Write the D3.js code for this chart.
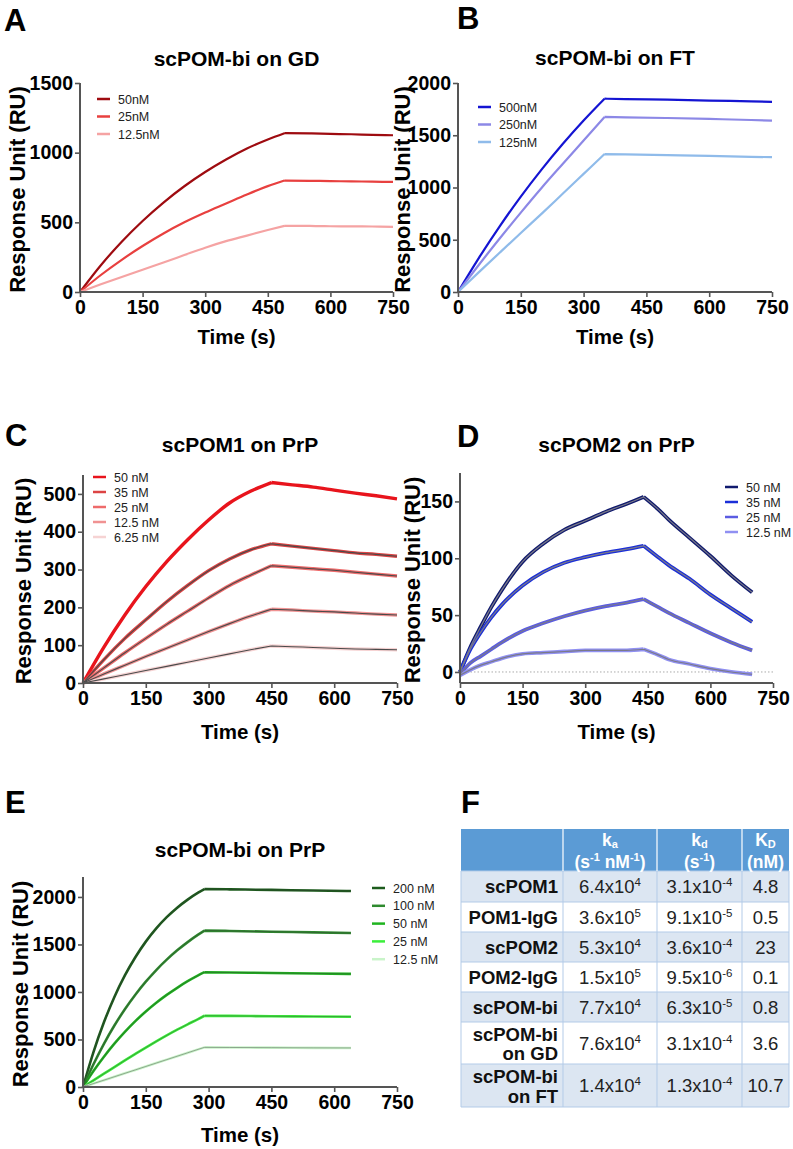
<!DOCTYPE html>
<html><head><meta charset="utf-8">
<script src="https://cdn.jsdelivr.net/npm/d3@7"></script>
<style>body{margin:0;background:#fff} svg{display:block} text{font-family:"Liberation Sans",Arial,Helvetica,sans-serif}</style>
</head><body><svg id="c" width="793" height="1149"></svg>
<script>
// ---------------- DATA ----------------
const xTicks = [0,150,300,450,600,750];

// Panel A: scPOM-bi on GD
const tA   = [0,50,100,150,200,250,300,350,400,450,490,550,600,650,700,750];
const gd50 = [0,192,361,510,642,759,861,951,1030,1095,1140,1138,1135,1132,1128,1125];
const gd25 = [0,122,231,330,420,500,570,635,700,760,800,798,796,794,792,790];
const gd12 = [0,55,108,160,212,265,318,365,405,445,475,474,472,471,470,468];
const legA = ["50nM","25nM","12.5nM"];
const colA = ["#9e0b10","#e8403f","#f5a3a3"];
const yTicksA = [0,500,1000,1500];

// Panel B: scPOM-bi on FT
const tB    = [0,50,100,150,200,250,300,350,400,500,600,700,750];
const ft500 = [0,327,631,913,1174,1416,1641,1850,1846,1840,1832,1824,1820];
const ft250 = [0,261,514,760,998,1225,1450,1675,1672,1665,1656,1646,1640];
const ft125 = [0,190,378,565,750,940,1130,1320,1317,1310,1302,1294,1290];
const legB = ["500nM","250nM","125nM"];
const colB = ["#1414d2","#8c88e6","#8fbbea"];
const yTicksB = [0,500,1000,1500,2000];

// Panel C: scPOM1 on PrP
const tC  = [0,50,100,150,200,250,300,350,400,450,500,550,600,650,700,750];
const c50 = [0,95,180,255,321,379,431,476,507,530,524,518,510,502,495,487];
const c35 = [0,62,118,167,215,258,297,328,352,368,362,356,350,344,340,335];
const c25 = [0,40,80,118,155,190,225,258,285,310,306,302,298,293,288,283];
const c12 = [0,24,47,70,92,114,136,157,177,195,193,190,188,185,182,180];
const c6  = [0,11,22,33,44,55,66,77,88,98,96,94,92,90,89,88];
const legC = ["50 nM","35 nM","25 nM","12.5 nM","6.25 nM"];
const colC = ["#e8141c","#dc4444","#ee6b6b","#f09292","#f6d3d3"];
const yTicksC = [0,100,200,300,400,500];

// Panel D: scPOM2 on PrP
const tD  = [0,25,50,75,100,150,200,250,300,350,400,440,475,500,550,600,650,700];
const d50 = [0,22,40,57,72,97,113,125,133,141,148,154,143,134,118,102,85,70];
const d35 = [0,20,35,48,59,76,88,96,101,105,108,111,101,94,82,68,56,44];
const d25 = [-2,8,14,20,26,36,43,49,54,58,61,64,57,52,43,34,26,19];
const d12 = [-3,2,6,9,12,16,17,18,19,19,19,20,15,11,7,3,0,-2];
const legD = ["50 nM","35 nM","25 nM","12.5 nM"];
const colD = ["#101a6e","#1b2fd8","#5b5ce2","#9090f2"];
const yTicksD = [0,50,100,150];

// Panel E: scPOM-bi on PrP
const tE   = [0,25,50,75,100,125,150,175,200,225,250,275,290,350,450,550,640];
const e200 = [0,368,681,948,1174,1366,1530,1669,1787,1887,1972,2045,2083,2080,2074,2068,2062];
const e100 = [0,240,455,647,818,971,1108,1231,1340,1438,1525,1603,1646,1642,1634,1627,1620];
const e50  = [0,168,319,456,580,693,794,886,969,1044,1113,1174,1208,1205,1200,1195,1190];
const e25  = [0,70,140,210,280,348,415,480,543,603,660,715,750,748,745,742,740];
const e12  = [0,36,72,108,144,180,216,252,288,324,360,396,417,416,414,412,411];
const legE = ["200 nM","100 nM","50 nM","25 nM","12.5 nM"];
const colE = ["#1d5c1d","#2e8a2e","#1fb41f","#3bef3b","#c9f4c9"];
const yTicksE = [0,500,1000,1500,2000];

// Panel F: table
const rowNames = [["scPOM1"],["POM1-IgG"],["scPOM2"],["POM2-IgG"],["scPOM-bi"],["scPOM-bi","on GD"],["scPOM-bi","on FT"]];
const kaMant = ["6.4","3.6","5.3","1.5","7.7","7.6","1.4"];
const kaExp  = ["4","5","4","5","4","4","4"];
const kdMant = ["3.1","9.1","3.6","9.5","6.3","3.1","1.3"];
const kdExp  = ["-4","-5","-4","-6","-5","-4","-4"];
const KD     = ["4.8","0.5","23","0.1","0.8","3.6","10.7"];

// ---------------- DRAW ----------------
const svg = d3.select("#c");
const FONT = '"Liberation Sans",Arial,sans-serif';

function panel(o){
  const g = svg.append("g");
  const x = d3.scaleLinear().domain([0,750]).range([o.left,o.right]);
  const y = d3.scaleLinear().domain(o.yDomain).range([o.bottom,o.top]);
  const line = d3.line().x(d=>x(d[0])).y(d=>y(d[1])).curve(d3.curveMonotoneX);
  const pathFor = s=>{
    const pts = o.time.map((t,j)=>[t,s[j]]);
    return line(pts.slice(0,o.peak+1)) + line(pts.slice(o.peak));
  };

  if (o.zeroLine) {
    g.append("line").attr("x1",o.left).attr("x2",o.right).attr("y1",y(0)).attr("y2",y(0))
      .attr("stroke","#aaa").attr("stroke-width",1).attr("stroke-dasharray","1.5,2");
  }
  o.series.forEach((s,i)=>{
    g.append("path").attr("d",pathFor(s)).attr("fill","none")
      .attr("stroke",o.colors[i]).attr("stroke-width",o.dataWidth||2)
      .attr("stroke-linejoin","round");
  });
  if (o.fit) {
    o.series.forEach((s,i)=>{
      if (o.fitSkip && o.fitSkip.includes(i)) return;
      g.append("path").attr("d",pathFor(s)).attr("fill","none")
        .attr("stroke",o.fit.color).attr("stroke-width",o.fit.width).attr("opacity",o.fit.opacity||1);
    });
  }
  const xa = g.append("g").attr("transform",`translate(0,${o.bottom})`)
    .call(d3.axisBottom(x).tickValues(xTicks).tickFormat(d3.format("d")).tickSize(5).tickSizeOuter(0).tickPadding(3));
  const ya = g.append("g").attr("transform",`translate(${o.left},0)`)
    .call(d3.axisLeft(y).tickValues(o.yTicks).tickFormat(d3.format("d")).tickSize(5).tickSizeOuter(0).tickPadding(2));
  [xa,ya].forEach(a=>{
    a.select(".domain").attr("stroke","#555").attr("stroke-width",2);
    a.selectAll(".tick line").attr("stroke","#555").attr("stroke-width",1.6);
    a.selectAll(".tick text").attr("fill","#000").attr("font-size",19.5).attr("font-weight","bold")
      .style("font-family",FONT);
  });
  ya.select(".domain").attr("d",`M0,${o.bottom}V${o.top}`);
  xa.select(".domain").attr("d",`M${o.left},0H${o.right}`);

  g.append("text").attr("x",(o.left+o.right)/2).attr("y",o.titleY).attr("text-anchor","middle")
    .attr("font-size",21).attr("font-weight","bold").text(o.title);
  g.append("text").attr("x",(o.left+o.right)/2).attr("y",o.xTitleY).attr("text-anchor","middle")
    .attr("font-size",20.5).attr("font-weight","bold").text("Time (s)");
  g.append("text").attr("transform",`translate(${o.yTitleX},${(o.top+o.bottom)/2+2}) rotate(-90)`)
    .attr("text-anchor","middle").attr("font-size",22).attr("font-weight","bold").text("Response Unit (RU)");
  g.append("text").attr("x",o.letter[1]).attr("y",o.letter[2]).attr("font-size",31)
    .attr("font-weight","bold").text(o.letter[0]);
  o.legend.names.forEach((n,i)=>{
    const ly = o.legend.y + i*o.legend.dy;
    g.append("line").attr("x1",o.legend.x).attr("x2",o.legend.x+13).attr("y1",ly).attr("y2",ly)
      .attr("stroke",o.colors[i]).attr("stroke-width",2.5);
    g.append("text").attr("x",o.legend.x+21).attr("y",ly+4.5).attr("font-size",12.5)
      .attr("fill","#222").text(n);
  });
}

panel({left:80,right:393,top:83,bottom:292,yDomain:[0,1500],yTicks:yTicksA,peak:10,
  time:tA,series:[gd50,gd25,gd12],colors:colA,dataWidth:2.2,title:"scPOM-bi on GD",titleY:66,xTitleY:344,yTitleX:25,
  letter:["A",4,31],legend:{names:legA,x:97,y:99,dy:17.5}});

panel({left:458,right:772,top:83,bottom:292,yDomain:[0,2000],yTicks:yTicksB,peak:7,
  time:tB,series:[ft500,ft250,ft125],colors:colB,dataWidth:2.2,title:"scPOM-bi on FT",titleY:65,xTitleY:344,yTitleX:410,
  letter:["B",457,29],legend:{names:legB,x:478,y:107,dy:17.5}});

panel({left:83,right:397,top:475,bottom:683,yDomain:[0,550],yTicks:yTicksC,peak:9,
  time:tC,series:[c50,c35,c25,c12,c6],colors:colC,dataWidth:3.4,
  fit:{color:"#4a4a4a",width:1.1},fitSkip:[0],
  title:"scPOM1 on PrP",titleY:452,xTitleY:739,yTitleX:31,
  letter:["C",5,446],legend:{names:legC,x:93,y:477,dy:15}});

panel({left:460,right:773,top:473,bottom:683,yDomain:[-9.7,175],yTicks:yTicksD,zeroLine:true,peak:11,
  time:tD,series:[d50,d35,d25,d12],colors:colD,dataWidth:3.8,
  fit:{color:"#7a7a88",width:1.2},
  title:"scPOM2 on PrP",titleY:452,xTitleY:739,yTitleX:420,
  letter:["D",457,447],legend:{names:legD,x:725,y:487,dy:15}});

panel({left:83,right:397,top:877,bottom:1087,yDomain:[0,2210],yTicks:yTicksE,peak:12,
  time:tE,series:[e200,e100,e50,e25,e12],colors:colE,dataWidth:2.6,
  fit:{color:"#333",width:0.8,opacity:0.5},
  title:"scPOM-bi on PrP",titleY:857,xTitleY:1142,yTitleX:28,
  letter:["E",5,813],legend:{names:legE,x:372,y:888,dy:17.8}});

// ---------------- TABLE F ----------------
(function(){
  const g = svg.append("g");
  g.append("text").attr("x",461).attr("y",813).attr("font-size",31).attr("font-weight","bold").text("F");
  const colX = [461,563,657,742,789];
  const headTop = 829, headBot = 871;
  const rowH = [31,30,30,30,30,42,43];
  const fs = 18.5;
  g.append("rect").attr("x",colX[0]).attr("y",headTop).attr("width",colX[4]-colX[0]).attr("height",headBot-headTop).attr("fill","#5b9bd5");
  let yy = headBot;
  const tops = [];
  rowH.forEach((h,i)=>{
    tops.push(yy);
    g.append("rect").attr("x",colX[0]).attr("y",yy).attr("width",colX[4]-colX[0]).attr("height",h)
      .attr("fill", i%2===0 ? "#dce6f2" : "#ffffff");
    yy += h;
  });
  const bottom = yy;
  tops.concat([bottom]).forEach(t=>{
    g.append("line").attr("x1",colX[0]).attr("x2",colX[4]).attr("y1",t).attr("y2",t).attr("stroke","#b3cbe8").attr("stroke-width",1);
  });
  colX.forEach((cx,i)=>{
    if (i>0 && i<4) g.append("line").attr("x1",cx).attr("x2",cx).attr("y1",headTop).attr("y2",headBot)
      .attr("stroke","#fff").attr("stroke-width",1.2);
    g.append("line").attr("x1",cx).attr("x2",cx).attr("y1",headBot).attr("y2",bottom)
      .attr("stroke","#b3cbe8").attr("stroke-width",1);
  });
  const cc = i=>(colX[i]+colX[i+1])/2;
  function head(i, main, sub, line2parts){
    const t1 = g.append("text").attr("x",cc(i)).attr("y",846).attr("text-anchor","middle")
      .attr("font-size",17.5).attr("font-weight","bold").attr("fill","#fff");
    t1.append("tspan").text(main);
    t1.append("tspan").attr("font-size",11).attr("dy",1.5).text(sub);
    const t2 = g.append("text").attr("x",cc(i)).attr("y",868).attr("text-anchor","middle")
      .attr("font-size",17.5).attr("font-weight","bold").attr("fill","#fff");
    line2parts.forEach(p=>{
      const ts = t2.append("tspan").text(p[0]);
      if (p[1]==="sup") ts.attr("font-size",11).attr("dy",-7);
      if (p[1]==="back") ts.attr("dy",7);
    });
  }
  head(1,"k","a",[["(s"],["-1","sup"],[" nM","back"],["-1","sup"],[")","back"]]);
  head(2,"k","d",[["(s"],["-1","sup"],[")","back"]]);
  head(3,"K","D",[["(nM)"]]);
  rowNames.forEach((nm,i)=>{
    const top = tops[i], h = rowH[i], mid = top + h/2;
    if (nm.length===1){
      g.append("text").attr("x",colX[1]-5).attr("y",mid+6.5).attr("text-anchor","end")
        .attr("font-size",fs).attr("font-weight","bold").attr("fill","#111").text(nm[0]);
    } else {
      g.append("text").attr("x",colX[1]-5).attr("y",mid-2.5).attr("text-anchor","end")
        .attr("font-size",fs).attr("font-weight","bold").attr("fill","#111").text(nm[0]);
      g.append("text").attr("x",colX[1]-5).attr("y",mid+17).attr("text-anchor","end")
        .attr("font-size",fs).attr("font-weight","bold").attr("fill","#111").text(nm[1]);
    }
    const sci = (col, m, e)=>{
      const t = g.append("text").attr("x",cc(col)).attr("y",mid+6.5).attr("text-anchor","middle")
        .attr("font-size",fs).attr("fill","#222");
      t.append("tspan").text(m+"x10");
      t.append("tspan").attr("font-size",11.5).attr("dy",-7).text(e);
    };
    sci(1, kaMant[i], kaExp[i]);
    sci(2, kdMant[i], kdExp[i]);
    g.append("text").attr("x",cc(3)).attr("y",mid+6.5).attr("text-anchor","middle")
      .attr("font-size",fs).attr("fill","#222").text(KD[i]);
  });
})();
</script>
</body></html>
